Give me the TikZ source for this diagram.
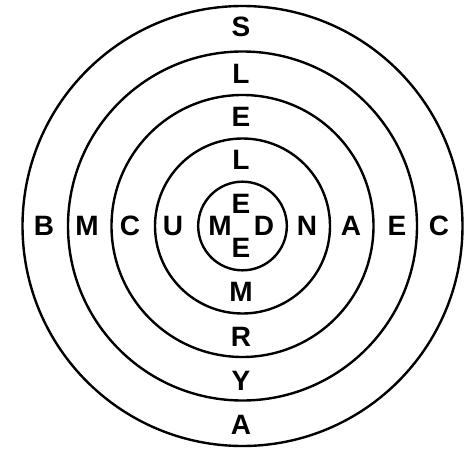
\documentclass[tikz,border=0pt]{standalone}
\usepackage{fontspec}
\setmainfont{Liberation Sans}
\usepackage{tikz}
\usetikzlibrary{positioning}

\begin{document}
\begin{tikzpicture}[
    x=0.75pt, y=-0.75pt,
    ring/.style={circle, draw, line width=1.8pt, inner sep=0pt},
    letter/.style={inner sep=0pt, font=\fontsize{21}{24}\selectfont\bfseries}
  ]

    \useasboundingbox (0,0) rectangle (474,449);

    % Rings
    \node[ring, minimum size=330pt] (ringA) at (242.5,226) {};
    \node[ring, minimum size=261.75pt] (ringB) at (242.5,226) {};
    \node[ring, minimum size=196.5pt] (ringC) at (242.5,226) {};
    \node[ring, minimum size=131.25pt] (ringD) at (242.5,226) {};
    \node[ring, minimum size=66.5pt] (ringE) at (242.5,226) {};

    % Across
    \node[letter] (b) at (44,226) {B};
    \node[letter] (m1) at (87,226) {M};
    \node[letter] (c1) at (130,226) {C};
    \node[letter] (u) at (173,226) {U};
    \node[letter] (m2) at (220,226) {M};
    \node[letter] (d) at (264,226) {D};
    \node[letter] (n) at (307,226) {N};
    \node[letter] (a1) at (351,226) {A};
    \node[letter] (e1) at (397,226) {E};
    \node[letter] (c2) at (439,226) {C};

    % Down
    \node[letter] (s) at (241,27) {S};
    \node[letter] (l1) at (241,73.5) {L};
    \node[letter] (e2) at (241,117) {E};
    \node[letter] (l2) at (241,160) {L};
    \node[letter] (e3) at (241,204) {E};
    \node[letter] (e4) at (241,248) {E};
    \node[letter] (m3) at (241,292) {M};
    \node[letter] (r) at (241,337) {R};
    \node[letter] (y) at (241,381) {Y};
    \node[letter] (a2) at (241,425) {A};

  \end{tikzpicture}
\end{document}
